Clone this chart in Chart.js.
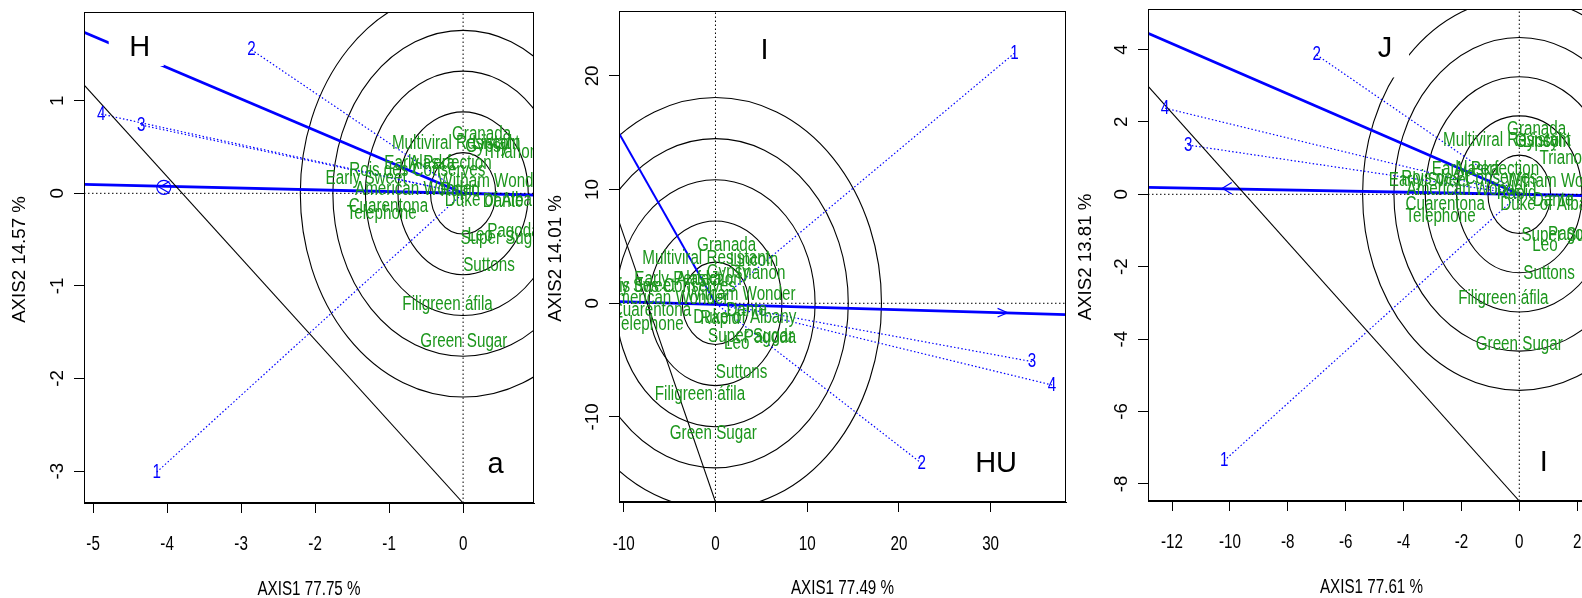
<!DOCTYPE html>
<html>
<head>
<meta charset="utf-8">
<script src="https://cdn.jsdelivr.net/npm/chart.js@4.4.1/dist/chart.umd.min.js"></script>
<style>
  html, body { margin: 0; padding: 0; background: #fff; overflow: hidden; width: 1582px; height: 598px; }
  canvas { position: absolute; top: 0; }
</style>
</head>
<body>
<canvas id="c1" width="540" height="598" style="left:0px"></canvas>
<canvas id="c2" width="530" height="598" style="left:540px"></canvas>
<canvas id="c3" width="540" height="598" style="left:1070px"></canvas>
<script>
// genotypes, same order in every panel
const genotypes = ['Granada', 'Multiviral Resistant', 'Lincoln', 'Gypsy', 'Trianon', 'Early Perfection',
  'Alaska', 'Rois des Conserves', 'Early Sweet', 'Witham Wonder', 'American Wonder', 'Rapid',
  'Duke of Albany', 'Dante', 'Cuarentona', 'Telephone', 'Super Sugar', 'Pagoda', 'Leo', 'Suttons',
  'Filigreen áfila', 'Green Sugar']
const environments = ['1', '2', '3', '4']

// panel a (H)
const p1XTicks = [-5, -4, -3, -2, -1, 0]
const p1YTicks = [-3, -2, -1, 0, 1]
const p1XRange = [-5.123, 0.958]
const p1YRange = [-3.344, 1.958]
const p1GenoX = [0.25, -0.1, 0.45, 0.32, 0.67, -0.34, -0.42, -0.62, -1.31, 0.4, -0.64, -0.04, 0.45, 0.54, -1.01, -1.1, 0.54, 0.68, 0.23, 0.35, -0.21, 0.01]
const p1GenoY = [0.64, 0.54, 0.54, 0.51, 0.44, 0.32, 0.32, 0.245, 0.16, 0.13, 0.04, 0.03, -0.08, -0.09, -0.14, -0.22, -0.49, -0.41, -0.46, -0.78, -1.2, -1.6]
const p1EnvX = [-4.14, -2.86, -4.35, -4.89]
const p1EnvY = [-3.01, 1.55, 0.737, 0.856]
const p1Rings = [0.44, 0.88, 1.32, 1.76, 2.2]
const p1AbscissaX = [-5.123, 0.958]
const p1AbscissaY = [0.097, -0.018]
const p1OrdinateX = [-5.123, 0]
const p1OrdinateY = [1.74, 0]
const p1BoundaryX = [-5.123, 0]
const p1BoundaryY = [1.17, -3.344]
const p1Arrow = [-4.105, 0.065]
const p1Tags = ['H', 'a']
const p1TagX = [-4.37, 0.44]
const p1TagY = [1.58, -2.92]

// panel HU (I)
const p2XTicks = [-10, 0, 10, 20, 30]
const p2YTicks = [-10, 0, 10, 20]
const p2XRange = [-10.52, 38.22]
const p2YRange = [-17.48, 25.71]
const p2GenoX = [1.22, -1.03, 4.2, 1.4, 4.85, -3.0, -1.8, -5.2, -8.8, 2.8, -5.2, 0.5, 3.2, 3.4, -6.98, -7.3, 3.85, 5.94, 2.31, 2.85, -1.69, -0.24]
const p2GenoY = [5.04, 3.96, 3.8, 2.7, 2.64, 2.05, 2.05, 1.46, 1.5, 0.73, 0.44, -1.35, -1.23, -0.59, -0.59, -1.9, -2.93, -3.0, -3.52, -6.1, -8.0, -11.43]
const p2EnvX = [32.6, 22.5, 34.5, 36.7]
const p2EnvY = [22.0, -14.1, -5.13, -7.19]
const p2Rings = [3.62, 7.24, 10.86, 14.48, 18.1]
const p2AbscissaX = [-10.52, 38.22]
const p2AbscissaY = [0.14, -1.0]
const p2OrdinateX = [-10.52, 0]
const p2OrdinateY = [14.95, 0]
const p2BoundaryX = [-10.52, 0]
const p2BoundaryY = [7.18, -17.48]
const p2Arrow = [31.85, -0.83]
const p2Tags = ['I', 'HU']
const p2TagX = [5.34, 30.6]
const p2TagY = [22.3, -14.07]

// panel I (J)
const p3XTicks = [-12, -10, -8, -6, -4, -2, 0, 2]
const p3YTicks = [-8, -6, -4, -2, 0, 2, 4]
const p3XRange = [-12.83, 2.616]
const p3YRange = [-8.472, 5.119]
const p3GenoX = [0.6, -0.43, 0.95, 0.6, 1.58, -1.17, -1.47, -1.73, -3.11, 1.39, -1.8, -0.09, 1.12, 1.17, -2.56, -2.72, 1.55, 1.9, 0.89, 1.03, -0.55, 0]
const p3GenoY = [1.8, 1.48, 1.45, 1.45, 0.99, 0.69, 0.69, 0.44, 0.39, 0.35, 0.14, 0.03, -0.28, -0.18, -0.27, -0.6, -1.15, -1.1, -1.4, -2.18, -2.89, -4.16]
const p3EnvX = [-10.2, -7.0, -11.44, -12.24]
const p3EnvY = [-7.36, 3.85, 1.36, 2.38]
const p3Rings = [1.083, 2.166, 3.249, 4.332, 5.415]
const p3AbscissaX = [-12.83, 2.616]
const p3AbscissaY = [0.19, -0.04]
const p3OrdinateX = [-12.83, 0]
const p3OrdinateY = [4.45, 0]
const p3BoundaryX = [-12.83, 0]
const p3BoundaryY = [2.99, -8.472]
const p3Arrow = [-10.26, 0.166]
const p3Tags = ['J', 'I']
const p3TagX = [-4.64, 0.85]
const p3TagY = [4.03, -7.39]

const FAMILY = "'Liberation Sans', Arial, sans-serif"
const TEXT_FONT = `20px ${FAMILY}`
const SIDE_FONT = `18.7px ${FAMILY}`
const TAG_FONT = `29px ${FAMILY}`
const SQUEEZE = 0.76 // horizontal text in the original uses a narrow face
const GREEN = '#1c961c'
const BLUE = '#0000ff'

const pts = (xs, ys) => xs.map((v, i) => ({x: v, y: ys[i]}))

function lineSet(label, xs, ys, color, width, dash) {
  return {label, data: pts(xs, ys), showLine: true, borderColor: color, borderWidth: width,
    borderDash: dash || [], pointRadius: 0, borderCapStyle: 'butt'}
}

function narrowText(ctx, text, x, y) {
  ctx.save()
  ctx.translate(x, y)
  ctx.scale(SQUEEZE, 1)
  ctx.fillText(text, 0, 0)
  ctx.restore()
}

function upText(ctx, text, x, y) {
  ctx.save()
  ctx.translate(x, y)
  ctx.rotate(-Math.PI / 2)
  ctx.fillText(text, 0, 0)
  ctx.restore()
}

function biplotPlugin(p) {
  return {
    id: 'biplot',
    beforeDatasetsDraw(chart) {
      const {ctx, chartArea: a, scales: {x, y}} = chart
      ctx.save()
      ctx.beginPath()
      ctx.rect(a.left, a.top, a.right - a.left, a.bottom - a.top)
      ctx.clip()
      const cx = x.getPixelForValue(0)
      const cy = y.getPixelForValue(0)
      ctx.strokeStyle = '#000'
      ctx.lineWidth = 1.1
      for (const r of p.rings) {
        ctx.beginPath()
        ctx.ellipse(cx, cy, x.getPixelForValue(r) - cx, cy - y.getPixelForValue(r), 0, 0, Math.PI * 2)
        ctx.stroke()
      }
      ctx.restore()
    },
    afterDatasetsDraw(chart) {
      const {ctx, chartArea: a, scales: {x, y}} = chart
      ctx.save()
      ctx.beginPath()
      ctx.rect(a.left, a.top, a.right - a.left, a.bottom - a.top)
      ctx.clip()

      // arrow marker on the abscissa
      const ax = x.getPixelForValue(p.arrow[0])
      const ay = y.getPixelForValue(p.arrow[1])
      const s = p.arrowStyle
      ctx.strokeStyle = BLUE
      ctx.lineWidth = 1.2
      ctx.beginPath()
      ctx.moveTo(ax - s.dir * s.len, ay - s.half)
      ctx.lineTo(ax, ay)
      ctx.lineTo(ax - s.dir * s.len, ay + s.half)
      ctx.stroke()
      if (s.circle) {
        ctx.beginPath()
        ctx.arc(ax - s.dir * 4.5, ay, s.circle, 0, Math.PI * 2)
        ctx.stroke()
      }

      ctx.textAlign = 'center'
      ctx.textBaseline = 'middle'
      ctx.font = TEXT_FONT
      const byLabel = l => chart.getDatasetMeta(chart.data.datasets.findIndex(d => d.label === l)).data
      ctx.fillStyle = GREEN
      byLabel('genotypes').forEach((pt, i) => narrowText(ctx, genotypes[i], pt.x, pt.y))
      ctx.fillStyle = BLUE
      byLabel('environments').forEach((pt, i) => narrowText(ctx, environments[i], pt.x, pt.y))

      ctx.font = TAG_FONT
      p.tags.forEach((t, i) => {
        const tx = x.getPixelForValue(p.tagX[i])
        const ty = y.getPixelForValue(p.tagY[i])
        const b = p.tagBoxes[i]
        if (b) {
          ctx.fillStyle = '#fff'
          ctx.fillRect(tx - b[0], ty - b[1], b[0] + b[2], b[1] + b[3])
        }
        ctx.fillStyle = '#000'
        ctx.fillText(t, tx, ty + 1)
      })
      ctx.restore()
    },
    afterDraw(chart) {
      const {ctx, chartArea: a, scales: {x, y}} = chart
      const f = p.frame
      ctx.save()
      ctx.strokeStyle = '#000'
      ctx.lineWidth = 1
      ctx.strokeRect(a.left + 0.5, a.top + 0.5, a.right - a.left - 1, a.bottom - a.top - 1)
      ctx.fillStyle = '#000'
      ctx.textAlign = 'center'
      ctx.textBaseline = 'middle'
      ctx.font = TEXT_FONT
      for (const t of x.ticks) narrowText(ctx, String(t.value), x.getPixelForValue(t.value), a.bottom + f.xTickGap)
      narrowText(ctx, p.xTitle, (a.left + a.right) / 2, a.bottom + f.xTitleGap)
      ctx.font = SIDE_FONT
      for (const t of y.ticks) upText(ctx, String(t.value), a.left - f.yTickGap, y.getPixelForValue(t.value))
      upText(ctx, p.yTitle, a.left - f.yTitleGap, (a.top + a.bottom) / 2 + 2)
      ctx.restore()
    }
  }
}

function makePanel(p) {
  const datasets = [
    lineSet('h0', p.xRange, [0, 0], '#000', 1, [1.5, 2.5]),
    lineSet('v0', [0, 0], p.yRange, '#000', 1, [1.5, 2.5]),
    lineSet('boundary', p.boundaryX, p.boundaryY, '#000', 1.1),
    ...p.envX.map((ex, i) => lineSet('env' + i, [ex, 0], [p.envY[i], 0], BLUE, 1.2, [1.5, 2.2])),
    lineSet('abscissa', p.abscissaX, p.abscissaY, BLUE, 2.8),
    lineSet('ordinate', p.ordinateX, p.ordinateY, BLUE, p.ordinateWidth),
    {label: 'genotypes', data: pts(p.genoX, p.genoY), showLine: false, pointRadius: 0},
    {label: 'environments', data: pts(p.envX, p.envY), showLine: false, pointRadius: 0}
  ]
  const grid = {display: true, drawOnChartArea: false, drawTicks: true, tickLength: 10, color: '#000', lineWidth: 1}
  new Chart(document.getElementById(p.id), {
    type: 'scatter',
    data: {datasets},
    options: {
      responsive: false,
      animation: false,
      events: [],
      layout: {padding: {left: 0, top: p.frame.top, right: p.frame.padRight, bottom: 0}},
      plugins: {legend: {display: false}, tooltip: {enabled: false}},
      scales: {
        x: {
          type: 'linear', position: 'bottom', min: p.xRange[0], max: p.xRange[1],
          afterBuildTicks: s => { s.ticks = p.xTicks.map(v => ({value: v})) },
          afterFit: s => { s.height = p.frame.xAxisH },
          ticks: {display: false},
          grid, border: {display: true, color: '#000', width: 1}
        },
        y: {
          type: 'linear', position: 'left', min: p.yRange[0], max: p.yRange[1],
          afterBuildTicks: s => { s.ticks = p.yTicks.map(v => ({value: v})) },
          afterFit: s => { s.width = p.frame.yAxisW },
          ticks: {display: false},
          grid, border: {display: true, color: '#000', width: 1}
        }
      }
    },
    plugins: [biplotPlugin(p)]
  })
}

makePanel({
  id: 'c1', xTitle: 'AXIS1 77.75 %', yTitle: 'AXIS2 14.57 %',
  xTicks: p1XTicks, yTicks: p1YTicks, xRange: p1XRange, yRange: p1YRange,
  genoX: p1GenoX, genoY: p1GenoY, envX: p1EnvX, envY: p1EnvY, rings: p1Rings,
  abscissaX: p1AbscissaX, abscissaY: p1AbscissaY, ordinateX: p1OrdinateX, ordinateY: p1OrdinateY,
  boundaryX: p1BoundaryX, boundaryY: p1BoundaryY, arrow: p1Arrow,
  tags: p1Tags, tagX: p1TagX, tagY: p1TagY,
  ordinateWidth: 2.8,
  arrowStyle: {dir: -1, len: 10, half: 5.8, circle: 7},
  tagBoxes: [[31, 22, 24, 19], null],
  frame: {top: 12, padRight: 6, yAxisW: 84, xAxisH: 95, xTickGap: 41, yTickGap: 26.5, xTitleGap: 86, yTitleGap: 64.5}
})

makePanel({
  id: 'c2', xTitle: 'AXIS1 77.49 %', yTitle: 'AXIS2 14.01 %',
  xTicks: p2XTicks, yTicks: p2YTicks, xRange: p2XRange, yRange: p2YRange,
  genoX: p2GenoX, genoY: p2GenoY, envX: p2EnvX, envY: p2EnvY, rings: p2Rings,
  abscissaX: p2AbscissaX, abscissaY: p2AbscissaY, ordinateX: p2OrdinateX, ordinateY: p2OrdinateY,
  boundaryX: p2BoundaryX, boundaryY: p2BoundaryY, arrow: p2Arrow,
  tags: p2Tags, tagX: p2TagX, tagY: p2TagY,
  ordinateWidth: 2,
  arrowStyle: {dir: 1, len: 10, half: 4.3, circle: 0},
  tagBoxes: [null, null],
  frame: {top: 11, padRight: 4, yAxisW: 79, xAxisH: 96, xTickGap: 42, yTickGap: 26.5, xTitleGap: 86.5, yTitleGap: 63}
})

makePanel({
  id: 'c3', xTitle: 'AXIS1 77.61 %', yTitle: 'AXIS2 13.81 %',
  xTicks: p3XTicks, yTicks: p3YTicks, xRange: p3XRange, yRange: p3YRange,
  genoX: p3GenoX, genoY: p3GenoY, envX: p3EnvX, envY: p3EnvY, rings: p3Rings,
  abscissaX: p3AbscissaX, abscissaY: p3AbscissaY, ordinateX: p3OrdinateX, ordinateY: p3OrdinateY,
  boundaryX: p3BoundaryX, boundaryY: p3BoundaryY, arrow: p3Arrow,
  tags: p3Tags, tagX: p3TagX, tagY: p3TagY,
  ordinateWidth: 2.8,
  arrowStyle: {dir: -1, len: 9.4, half: 5.7, circle: 0},
  tagBoxes: [[24, 29, 24, 29], null],
  frame: {top: 9, padRight: 15, yAxisW: 78, xAxisH: 97, xTickGap: 41.5, yTickGap: 26.5, xTitleGap: 86, yTitleGap: 62}
})
</script>
</body>
</html>
